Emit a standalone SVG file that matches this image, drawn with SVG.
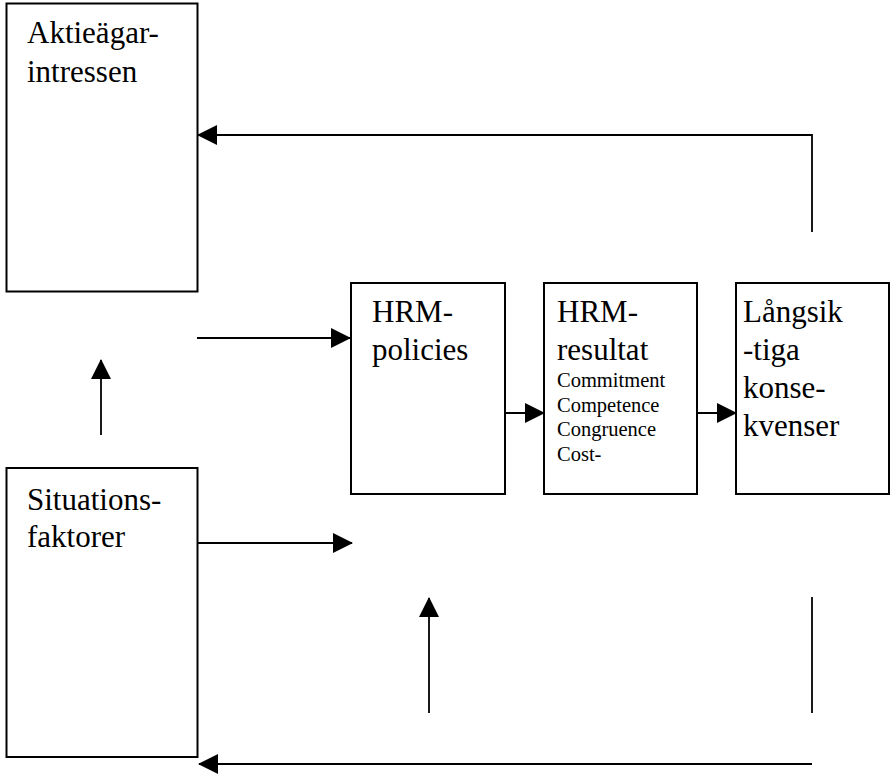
<svg xmlns="http://www.w3.org/2000/svg" width="890" height="774" viewBox="0 0 890 774">
<style>
.box{fill:#fff;stroke:#000;stroke-width:2}
.t{font-size:31px;fill:#000}
.s{font-size:20.5px;fill:#000}
.c{fill:none;stroke:#000;stroke-width:1.8}
</style>
<defs>
<marker id="ah" markerUnits="userSpaceOnUse" markerWidth="20" markerHeight="20" viewBox="0 0 20 20" refX="19" refY="10" orient="auto">
<path d="M0,0 L20,10 L0,20 z" fill="#000"/>
</marker>
</defs>
<rect width="890" height="774" fill="#fff"/>
<g font-family="'Liberation Serif', 'Times New Roman', 'DejaVu Serif', serif">
<g id="aktieagarintressen">
<rect class="box" x="6.5" y="3.5" width="191" height="288"/>
<text class="t" x="27" y="43">Aktieägar-</text>
<text class="t" x="27" y="82">intressen</text>
</g>
<g id="situationsfaktorer">
<rect class="box" x="6.5" y="468" width="191" height="289"/>
<text class="t" x="27" y="510">Situations-</text>
<text class="t" x="27" y="547">faktorer</text>
</g>
<g id="hrm-policies">
<rect class="box" x="351" y="283" width="154" height="211"/>
<text class="t" x="372" y="322">HRM-</text>
<text class="t" x="372" y="360">policies</text>
</g>
<g id="hrm-resultat">
<rect class="box" x="544" y="283" width="153" height="211"/>
<text class="t" x="557" y="322">HRM-</text>
<text class="t" x="557" y="360">resultat</text>
<text class="s" x="557" y="387">Commitment</text>
<text class="s" x="557" y="411.5">Competence</text>
<text class="s" x="557" y="436">Congruence</text>
<text class="s" x="557" y="460.5">Cost-</text>
</g>
<g id="langsiktiga-konsekvenser">
<rect class="box" x="736" y="283" width="153" height="211"/>
<text class="t" x="743" y="322">Långsik</text>
<text class="t" x="743" y="360">-tiga</text>
<text class="t" x="743" y="398">konse-</text>
<text class="t" x="743" y="436">kvenser</text>
</g>
</g>
<g id="connectors">
<polyline class="c" points="812,232 812,135 198,135" marker-end="url(#ah)"/>
<line class="c" x1="197" y1="338" x2="350" y2="338" marker-end="url(#ah)"/>
<line class="c" x1="101" y1="435" x2="101" y2="360" marker-end="url(#ah)"/>
<line class="c" x1="198" y1="543" x2="352" y2="543" marker-end="url(#ah)"/>
<line class="c" x1="505" y1="413" x2="544" y2="413" marker-end="url(#ah)"/>
<line class="c" x1="697" y1="413" x2="736" y2="413" marker-end="url(#ah)"/>
<line class="c" x1="429" y1="713" x2="429" y2="598" marker-end="url(#ah)"/>
<line class="c" x1="812" y1="597" x2="812" y2="713"/>
<line class="c" x1="812" y1="764" x2="199" y2="764" marker-end="url(#ah)"/>
</g>
</svg>
